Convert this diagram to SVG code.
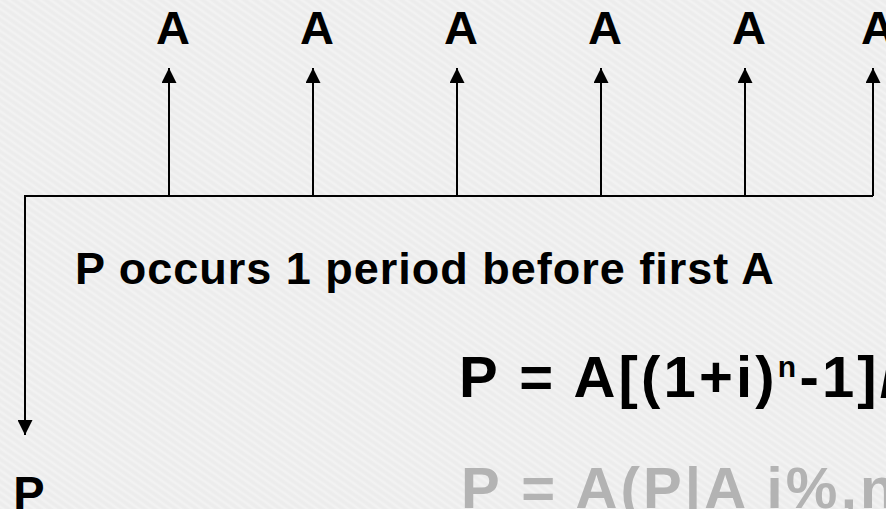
<svg xmlns="http://www.w3.org/2000/svg" width="886" height="509" viewBox="0 0 886 509">
  <defs>
    <!-- faint diagonal paper grain -->
    <pattern id="grain" width="6" height="6" patternUnits="userSpaceOnUse" patternTransform="rotate(35)">
      <rect width="6" height="6" fill="#eeeeee"/>
      <line x1="0" y1="1" x2="6" y2="1" stroke="#f6f6f6" stroke-width="1.2"/>
      <line x1="0" y1="4" x2="6" y2="4" stroke="#e8e8e8" stroke-width="0.8"/>
    </pattern>
    <marker id="head" viewBox="0 0 15 15" refX="15" refY="7.5" markerWidth="15" markerHeight="15" markerUnits="userSpaceOnUse" orient="auto">
      <path d="M0,0 L15,7.5 L0,15 Z" fill="#000"/>
    </marker>
    <style>
      .bold { font-family: "Liberation Sans", Arial, sans-serif; font-weight: bold; }
      .label { font-size: 47px; fill: #000; text-anchor: middle; }
      .note { font-size: 45px; fill: #000; letter-spacing: 1px; }
      .formula { font-size: 58px; letter-spacing: 3.2px; }
      .wire { stroke: #000; stroke-width: 2; fill: none; }
      .arrow { stroke: #000; stroke-width: 2; fill: none; marker-end: url(#head); }
    </style>
  </defs>

  <rect width="886" height="509" fill="url(#grain)"/>

  <!-- cash-flow time line with receipts and the present value -->
  <g id="connectors">
    <path class="wire" d="M25,196 H873"/>
    <path class="arrow" d="M169,196 V68"/>
    <path class="arrow" d="M313,196 V68"/>
    <path class="arrow" d="M457,196 V68"/>
    <path class="arrow" d="M601,196 V68"/>
    <path class="arrow" d="M745,196 V68"/>
    <path class="arrow" d="M873,196 V68"/>
    <path class="arrow" d="M25,195 V435"/>
  </g>

  <g id="a1"><text class="bold label" x="173" y="44">A</text></g>
  <g id="a2"><text class="bold label" x="317" y="44">A</text></g>
  <g id="a3"><text class="bold label" x="461" y="44">A</text></g>
  <g id="a4"><text class="bold label" x="605" y="44">A</text></g>
  <g id="a5"><text class="bold label" x="749" y="44">A</text></g>
  <g id="a6"><text class="bold label" x="878" y="44">A</text></g>

  <g id="p"><text class="bold label" x="29" y="509" font-size="48">P</text></g>

  <g id="note">
    <text class="bold note" x="75" y="284">P occurs 1 period before first A</text>
  </g>

  <g id="formula">
    <text class="bold formula" x="459" y="397" fill="#000">P = A[(1+i)<tspan font-size="30" dy="-20">n</tspan><tspan dy="20">-1]/</tspan></text>
  </g>

  <g id="factor">
    <text class="bold formula" x="461" y="508" fill="#b3b3b3">P = A(P|A i%,n</text>
  </g>
</svg>
